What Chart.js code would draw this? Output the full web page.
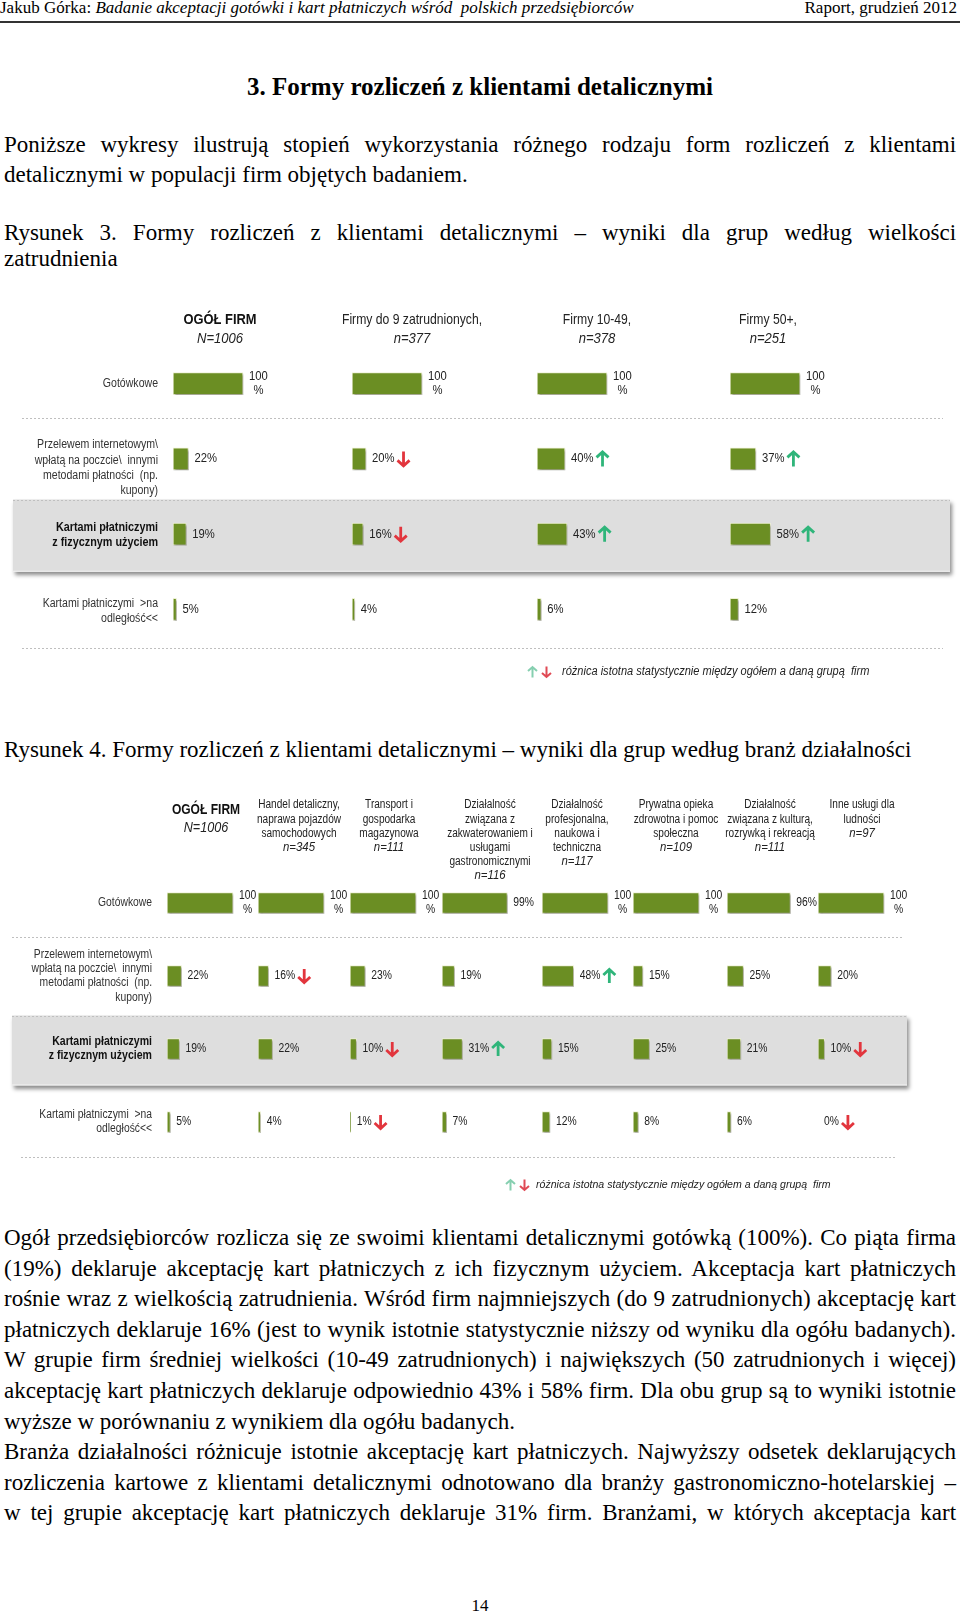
<!DOCTYPE html>
<html lang="pl">
<head>
<meta charset="utf-8">
<title>Formy rozliczeń z klientami detalicznymi</title>
<script src="https://cdn.jsdelivr.net/npm/chart.js@4.4.1/dist/chart.umd.min.js"></script>
<style>
  html, body { margin:0; padding:0; background:#fff; }
  body { position:relative; width:960px; height:1613px; overflow:hidden;
         font-family:"Liberation Serif","Times New Roman",Times,serif; color:#000; }
  .t { position:absolute; white-space:nowrap; }
  .body { font-size:23px; line-height:30px; left:4px; }
  canvas { position:absolute; left:0; }
</style>
</head>
<body>
<div class="t" style="left:0;top:-1px;font-size:17px;line-height:17px;">Jakub Górka: <i>Badanie akceptacji gotówki i kart płatniczych wśród&nbsp; polskich przedsiębiorców</i></div>
<div class="t" style="right:3px;top:-1px;font-size:17px;line-height:17px;">Raport, grudzień 2012</div>
<div style="position:absolute;left:0;top:21px;width:960px;height:2px;background:#333;"></div>

<div class="t" style="left:0;width:960px;text-align:center;top:71px;font-size:25px;line-height:32px;font-weight:bold;">3. Formy rozliczeń z klientami detalicznymi</div>

<div class="t body" data-w="952" style="top:130px">Poniższe wykresy ilustrują stopień wykorzystania różnego rodzaju form rozliczeń z klientami</div>
<div class="t body" style="top:160px">detalicznymi w populacji firm objętych badaniem.</div>

<div class="t body" data-w="952" style="top:218px">Rysunek 3. Formy rozliczeń z klientami detalicznymi – wyniki dla grup według wielkości</div>
<div class="t body" style="top:244px">zatrudnienia</div>

<canvas id="fig1" width="960" height="400" style="top:290px"></canvas>

<div class="t body" style="top:735px">Rysunek 4. Formy rozliczeń z klientami detalicznymi – wyniki dla grup według branż działalności</div>

<canvas id="fig2" width="960" height="430" style="top:770px"></canvas>

<div class="t body" data-w="952" style="top:1223px">Ogół przedsiębiorców rozlicza się ze swoimi klientami detalicznymi gotówką (100%). Co piąta firma</div>
<div class="t body" data-w="952" style="top:1254px">(19%) deklaruje akceptację kart płatniczych z ich fizycznym użyciem. Akceptacja kart płatniczych</div>
<div class="t body" data-w="952" style="top:1284px">rośnie wraz z wielkością zatrudnienia. Wśród firm najmniejszych (do 9 zatrudnionych) akceptację kart</div>
<div class="t body" data-w="952" style="top:1315px">płatniczych deklaruje 16% (jest to wynik istotnie statystycznie niższy od wyniku dla ogółu badanych).</div>
<div class="t body" data-w="952" style="top:1345px">W grupie firm średniej wielkości (10-49 zatrudnionych) i największych (50 zatrudnionych i więcej)</div>
<div class="t body" data-w="952" style="top:1376px">akceptację kart płatniczych deklaruje odpowiednio 43% i 58% firm. Dla obu grup są to wyniki istotnie</div>
<div class="t body" style="top:1407px">wyższe w porównaniu z wynikiem dla ogółu badanych.</div>
<div class="t body" data-w="952" style="top:1437px">Branża działalności różnicuje istotnie akceptację kart płatniczych. Najwyższy odsetek deklarujących</div>
<div class="t body" data-w="952" style="top:1468px">rozliczenia kartowe z klientami detalicznymi odnotowano dla branży gastronomiczno-hotelarskiej –</div>
<div class="t body" data-w="952" style="top:1498px">w tej grupie akceptację kart płatniczych deklaruje 31% firm. Branżami, w których akceptacja kart</div>

<div class="t" style="left:0;width:960px;text-align:center;top:1597px;font-size:17px;line-height:17px;">14</div>

<script>
// ======================= DATA =======================
// Rows (payment forms) shared by both figures
const rowKeys = ['Gotówkowe', 'Przelewem', 'Kartami fizycznie', 'Kartami na odległość'];
const rowLabels = [
  ['Gotówkowe'],
  ['Przelewem internetowym\\', 'wpłatą na poczcie\\  innymi', 'metodami płatności  (np.', 'kupony)'],
  ['Kartami płatniczymi', 'z fizycznym użyciem'],
  ['Kartami płatniczymi  >na', 'odległość<<']
];
const legendText = 'różnica istotna statystycznie między ogółem a daną grupą  firm';

// Rysunek 3 – groups by employment size
const sizeHeaders = [['OGÓŁ FIRM'], ['Firmy do 9 zatrudnionych,'], ['Firmy 10-49,'], ['Firmy 50+,']];
const sizeN = ['N=1006', 'n=377', 'n=378', 'n=251'];
const sizeCash = [100, 100, 100, 100];
const sizeTransfer = [22, 20, 40, 37];
const sizeCardPhysical = [19, 16, 43, 58];
const sizeCardRemote = [5, 4, 6, 12];
// significance: 1 = higher than total, -1 = lower than total
const sizeSigCash = [0, 0, 0, 0];
const sizeSigTransfer = [0, -1, 1, 1];
const sizeSigCardPhysical = [0, -1, 1, 1];
const sizeSigCardRemote = [0, 0, 0, 0];

// Rysunek 4 – groups by industry
const industryHeaders = [
  ['OGÓŁ FIRM'],
  ['Handel detaliczny,', 'naprawa pojazdów', 'samochodowych'],
  ['Transport i', 'gospodarka', 'magazynowa'],
  ['Działalność', 'związana z', 'zakwaterowaniem i', 'usługami', 'gastronomicznymi'],
  ['Działalność', 'profesjonalna,', 'naukowa i', 'techniczna'],
  ['Prywatna opieka', 'zdrowotna i pomoc', 'społeczna'],
  ['Działalność', 'związana z kulturą,', 'rozrywką i rekreacją'],
  ['Inne usługi dla', 'ludności']
];
const industryN = ['N=1006', 'n=345', 'n=111', 'n=116', 'n=117', 'n=109', 'n=111', 'n=97'];
const indCash = [100, 100, 100, 99, 100, 100, 96, 100];
const indTransfer = [22, 16, 23, 19, 48, 15, 25, 20];
const indCardPhysical = [19, 22, 10, 31, 15, 25, 21, 10];
const indCardRemote = [5, 4, 1, 7, 12, 8, 6, 0];
const indSigCash = [0, 0, 0, 0, 0, 0, 0, 0];
const indSigTransfer = [0, -1, 0, 0, 1, 0, 0, 0];
const indSigCardPhysical = [0, 0, -1, 1, 0, 0, 0, -1];
const indSigCardRemote = [0, 0, -1, 0, 0, 0, 0, -1];

// ======================= LAYOUT / STYLE =======================
const FONT = '"Liberation Sans", Arial, Helvetica, sans-serif';
const BAR_GREEN = '#6b8e23';
const UP_GREEN = '#2fb57a';
const DOWN_RED = '#e2353d';

const FIG1 = {
  left: 173, areaTop: 56, areaBottom: 357,
  colWidths: [179, 185, 193, 200], pxPer100: 70, barThickness: 22,
  headX: [220, 412, 597, 768], headY: 30, headStep: 19, totalOffset: 0, totalStep: 19,
  headFont: {size: 14.5, sx: 0.84}, totalFont: {size: 15, sx: 0.86, weight: 'bold'},
  nFont: {size: 14.5, sx: 0.9, style: 'italic'}, totalNFont: {size: 14.5, sx: 0.9, style: 'italic'},
  labelRight: 158, labelStep: 15.3, labelShift: [0, 9, 1, 2],
  labelFont: {size: 12, sx: 0.88}, boldFont: {size: 12, sx: 0.9, weight: 'bold'},
  valueFont: {size: 12.5, sx: 0.9}, valueGap: 6,
  band: [13, 950], sepTop: [22, 943], sepBottom: [22, 943], sepBottomDy: 1,
  legend: {x: 528, tx: 562, y: 382, font: {size: 12, sx: 0.92, style: 'italic'}},
  arrow: {h: 15, w: 12, lw: 2.8}
};
const FIG2 = {
  left: 167, areaTop: 96.5, areaBottom: 388.5,
  colWidths: [91, 92, 92, 100, 91, 94, 91, 100], pxPer100: 66, barThickness: 21,
  headX: [206, 299, 389, 490, 577, 676, 770, 862], headY: 35, headStep: 14.2, totalOffset: 5, totalStep: 18,
  headFont: {size: 12, sx: 0.84}, totalFont: {size: 14, sx: 0.86, weight: 'bold'},
  nFont: {size: 12, sx: 0.95, style: 'italic'}, totalNFont: {size: 14, sx: 0.9, style: 'italic'},
  labelRight: 152, labelStep: 14.3, labelShift: [0, 0, 0, 0],
  labelFont: {size: 12, sx: 0.86}, boldFont: {size: 12, sx: 0.88, weight: 'bold'},
  valueFont: {size: 12, sx: 0.86}, valueGap: 6,
  band: [12, 907], sepTop: [12, 902], sepBottom: [21, 896], sepBottomDy: -2,
  legend: {x: 506, tx: 536, y: 415, font: {size: 11.5, sx: 0.92, style: 'italic'}},
  arrow: {h: 14, w: 12, lw: 2.8}
};

// ======================= HELPERS =======================
function setFont(ctx, o) {
  ctx.font = `${o.style || 'normal'} ${o.weight || 'normal'} ${o.size}px ${FONT}`;
}
function drawText(ctx, s, x, y, o, align, color) {
  ctx.save();
  setFont(ctx, o);
  ctx.fillStyle = color || '#222';
  ctx.textAlign = align || 'left';
  ctx.textBaseline = 'middle';
  const w = ctx.measureText(s).width * (o.sx || 1);
  ctx.translate(x, y);
  ctx.scale(o.sx || 1, 1);
  ctx.fillText(s, 0, 0);
  ctx.restore();
  return w;
}
function textWidth(ctx, s, o) {
  ctx.save(); setFont(ctx, o);
  const w = ctx.measureText(s).width * (o.sx || 1);
  ctx.restore(); return w;
}
function drawArrow(ctx, x, y, dir, color, a) {
  const h = a.h, w = a.w, cx = x + w / 2, top = y - h / 2, bot = y + h / 2;
  ctx.save();
  ctx.strokeStyle = color; ctx.lineWidth = a.lw; ctx.lineCap = 'butt'; ctx.lineJoin = 'miter';
  ctx.beginPath();
  if (dir > 0) {
    ctx.moveTo(cx, bot); ctx.lineTo(cx, top + 1.5);
    ctx.moveTo(x, top + w / 2); ctx.lineTo(cx, top + 0.5); ctx.lineTo(x + w, top + w / 2);
  } else {
    ctx.moveTo(cx, top); ctx.lineTo(cx, bot - 1.5);
    ctx.moveTo(x, bot - w / 2); ctx.lineTo(cx, bot - 0.5); ctx.lineTo(x + w, bot - w / 2);
  }
  ctx.stroke();
  ctx.restore();
}

function decoPlugin(L, headers, nLabels, sigs) {
  return {
    id: 'deco',
    beforeDatasetsDraw(chart) {
      const ctx = chart.ctx, ys = chart.scales.y;
      const c = rowKeys.map((_, i) => ys.getPixelForValue(i));
      const bandTop = (c[1] + c[2]) / 2 + 3, bandBot = (c[2] + c[3]) / 2;
      // grey band behind the card row
      ctx.save();
      ctx.shadowColor = 'rgba(0,0,0,0.45)'; ctx.shadowBlur = 4; ctx.shadowOffsetX = 2; ctx.shadowOffsetY = 3;
      ctx.fillStyle = '#dedede';
      ctx.fillRect(L.band[0], bandTop, L.band[1] - L.band[0], bandBot - bandTop);
      ctx.restore();
      ctx.save();
      ctx.fillStyle = '#f4f4f4';
      ctx.fillRect(L.band[0], bandBot - 1, L.band[1] - L.band[0], 1);
      ctx.restore();
      // dashed separators
      ctx.save();
      ctx.strokeStyle = '#bfbfbf'; ctx.lineWidth = 1; ctx.setLineDash([2, 2]);
      const hl = (x0, x1, y) => { const yy = Math.round(y) + 0.5; ctx.beginPath(); ctx.moveTo(x0, yy); ctx.lineTo(x1, yy); ctx.stroke(); };
      hl(L.sepTop[0], L.sepTop[1], (c[0] + c[1]) / 2 - 3);
      hl(L.band[0], L.band[1], bandTop);
      hl(L.sepBottom[0], L.sepBottom[1], chart.chartArea.bottom + L.sepBottomDy);
      ctx.restore();
      // soft shadow under the bars
      ctx.save();
      ctx.shadowColor = 'rgba(0,0,0,0.35)'; ctx.shadowBlur = 2; ctx.shadowOffsetX = 1; ctx.shadowOffsetY = 2;
    },
    afterDatasetsDraw(chart) {
      const ctx = chart.ctx, ys = chart.scales.y;
      ctx.restore();
      const c = rowKeys.map((_, i) => ys.getPixelForValue(i));
      // column headers
      headers.forEach((lines, i) => {
        const x = L.headX[i];
        if (i === 0) {
          drawText(ctx, lines[0], x, L.headY + L.totalOffset, L.totalFont, 'center', '#111');
          drawText(ctx, nLabels[i], x, L.headY + L.totalOffset + L.totalStep, L.totalNFont, 'center', '#222');
        } else {
          lines.forEach((ln, k) => drawText(ctx, ln, x, L.headY + k * L.headStep, L.headFont, 'center', '#222'));
          const step = lines.length === 1 ? L.totalStep : L.headStep;
          drawText(ctx, nLabels[i], x, L.headY + lines.length * step, L.nFont, 'center', '#222');
        }
      });
      // row labels
      rowLabels.forEach((lines, r) => {
        const yc = c[r] + L.labelShift[r];
        const bold = r === 2;
        lines.forEach((ln, k) => {
          const y = yc + (k - (lines.length - 1) / 2) * L.labelStep;
          drawText(ctx, ln, L.labelRight, y, bold ? L.boldFont : L.labelFont, 'right', bold ? '#111' : '#333');
        });
      });
      // value labels + significance arrows
      chart.data.datasets.forEach((ds, i) => {
        const meta = chart.getDatasetMeta(i);
        meta.data.forEach((bar, r) => {
          const v = ds.data[r];
          const x0 = bar.x + L.valueGap;
          let xEnd;
          if (v === 100) {
            const w = textWidth(ctx, '100', L.valueFont);
            drawText(ctx, '100', x0 + w / 2, bar.y - 7, L.valueFont, 'center', '#222');
            drawText(ctx, '%', x0 + w / 2, bar.y + 7, L.valueFont, 'center', '#222');
            xEnd = x0 + w;
          } else {
            xEnd = x0 + drawText(ctx, v + '%', x0, bar.y, L.valueFont, 'left', '#222');
          }
          const s = sigs[r][i];
          if (s) drawArrow(ctx, xEnd + 3, bar.y, s, s > 0 ? UP_GREEN : DOWN_RED, L.arrow);
        });
      });
      // legend
      const lg = L.legend, sa = {h: 11, w: 9, lw: 2};
      drawArrow(ctx, lg.x, lg.y, 1, '#86cfb0', sa);
      drawArrow(ctx, lg.x + 14, lg.y, -1, '#e04a55', sa);
      drawText(ctx, legendText, lg.tx, lg.y, lg.font, 'left', '#222');
    }
  };
}

function buildFigure(canvasId, L, headers, nLabels, series, sigs) {
  const canvas = document.getElementById(canvasId);
  const scales = {
    y: { type: 'category', labels: rowKeys, display: false, offset: true, grid: { display: false } }
  };
  const datasets = [];
  let total = 0;
  headers.forEach((h, i) => {
    total += L.colWidths[i];
    scales['x' + i] = {
      type: 'linear', axis: 'x', position: 'bottom', stack: 'cols', stackWeight: L.colWidths[i],
      min: 0, max: L.colWidths[i] * 100 / L.pxPer100, display: false, grid: { display: false }
    };
    datasets.push({
      label: h.join(' ') + ' ' + nLabels[i],
      data: series.map(row => row[i]),
      xAxisID: 'x' + i,
      yAxisID: 'y',
      backgroundColor: BAR_GREEN,
      borderColor: '#eef1d4',
      borderWidth: 1,
      borderSkipped: false,
      grouped: false,
      barThickness: L.barThickness,
      maxBarThickness: L.barThickness
    });
  });
  return new Chart(canvas, {
    type: 'bar',
    data: { labels: rowKeys, datasets },
    options: {
      indexAxis: 'y',
      responsive: false,
      maintainAspectRatio: false,
      animation: false,
      events: [],
      layout: { padding: { left: L.left, right: canvas.width - L.left - total, top: L.areaTop, bottom: canvas.height - L.areaBottom } },
      scales,
      plugins: { legend: { display: false }, tooltip: { enabled: false } }
    },
    plugins: [decoPlugin(L, headers, nLabels, sigs)]
  });
}

buildFigure('fig1', FIG1, sizeHeaders, sizeN,
  [sizeCash, sizeTransfer, sizeCardPhysical, sizeCardRemote],
  [sizeSigCash, sizeSigTransfer, sizeSigCardPhysical, sizeSigCardRemote]);
buildFigure('fig2', FIG2, industryHeaders, industryN,
  [indCash, indTransfer, indCardPhysical, indCardRemote],
  [indSigCash, indSigTransfer, indSigCardPhysical, indSigCardRemote]);

// justify single text lines to the column width
document.querySelectorAll('.t[data-w]').forEach(el => {
  const target = +el.dataset.w;
  el.style.wordSpacing = '0px';
  const w = el.getBoundingClientRect().width;
  const n = (el.textContent.match(/ /g) || []).length;
  if (n) el.style.wordSpacing = ((target - w) / n).toFixed(2) + 'px';
});
</script>
</body>
</html>
